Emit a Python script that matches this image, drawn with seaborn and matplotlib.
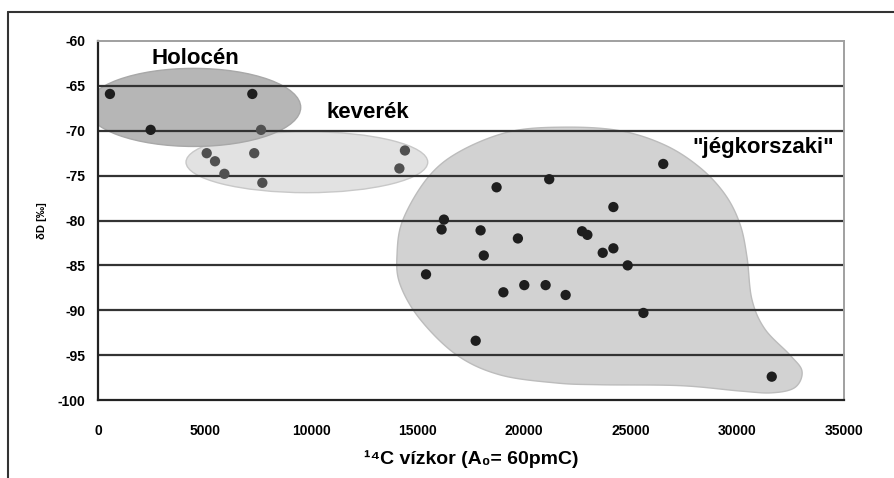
import numpy as np
import pandas as pd
import matplotlib
matplotlib.use("Agg")
import matplotlib.pyplot as plt
from matplotlib.patches import Ellipse, Polygon
from matplotlib.lines import Line2D
import seaborn as sns

# measured points: 14C water age (years) and dD (permil)
holocen_age = [560, 2470, 7240]
holocen_dd = [-65.9, -69.9, -65.9]

keverek_age = [7650, 5100, 5490, 5930, 7330, 7710, 14400, 14140]
keverek_dd = [-69.9, -72.5, -73.4, -74.8, -72.5, -75.8, -72.2, -74.2]

jeg_age = [26520, 21170, 18700, 24180, 16230, 16120, 17950, 19700, 22710, 22960,
           23680, 24180, 18100, 24850, 15390, 19020, 20000, 21000, 21940, 25590,
           17720, 31610]
jeg_dd = [-73.7, -75.4, -76.3, -78.5, -79.9, -81.0, -81.1, -82.0, -81.2, -81.6,
          -83.6, -83.1, -83.9, -85.0, -86.0, -88.0, -87.2, -87.2, -88.3, -90.3,
          -93.4, -97.4]

# group outlines (ellipse centre / size, blob outline)
holocen_ell = (4490, -67.4, 10040, 8.7)
keverek_ell = (9800, -73.5, 11340, 6.8)
blob_x = [21910, 24490, 26600, 28240, 29420, 30120, 30450, 30680, 31290, 32470,
          33030, 32700, 31620, 30120, 27310, 23550, 21490, 18860, 16840, 15110,
          14170, 14030, 14310, 15480, 16980, 19330]
blob_y = [-69.6, -70.0, -71.6, -74.1, -77.1, -80.4, -84.1, -88.8, -92.1, -95.0,
          -96.8, -98.6, -99.2, -99.0, -98.4, -98.3, -98.1, -97.2, -95.0, -91.0,
          -87.1, -83.8, -79.9, -75.2, -72.3, -70.1]

x_ticks = [0, 5000, 10000, 15000, 20000, 25000, 30000, 35000]
y_ticks = [-100, -95, -90, -85, -80, -75, -70, -65, -60]

sns.set_style("white")
plt.rcParams["font.family"] = ["Liberation Sans", "DejaVu Sans"]
plt.rcParams["text.color"] = "black"
plt.rcParams["axes.labelcolor"] = "black"
plt.rcParams["xtick.color"] = "black"
plt.rcParams["ytick.color"] = "black"

df = pd.concat([
    pd.DataFrame({"age": holocen_age, "dd": holocen_dd, "grp": "Holocén"}),
    pd.DataFrame({"age": keverek_age, "dd": keverek_dd, "grp": "keverék"}),
    pd.DataFrame({"age": jeg_age, "dd": jeg_dd, "grp": "jég"}),
])

fig = plt.figure(figsize=(8.95, 4.78), dpi=100)
ax = fig.add_axes([98 / 895, 78 / 478, 746 / 895, 359 / 478])


def smooth_closed(xs, ys, n=20):
    # closed Catmull-Rom curve through the outline points
    p = np.column_stack([xs, ys]).astype(float)
    sx, sy = 35000.0, 40.0
    p[:, 0] /= sx
    p[:, 1] /= sy
    out = []
    m = len(p)
    for i in range(m):
        p0, p1, p2, p3 = p[i - 1], p[i], p[(i + 1) % m], p[(i + 2) % m]
        for t in np.linspace(0, 1, n, endpoint=False):
            t2, t3 = t * t, t * t * t
            out.append(0.5 * ((2 * p1) + (-p0 + p2) * t + (2 * p0 - 5 * p1 + 4 * p2 - p3) * t2
                              + (-p0 + 3 * p1 - 3 * p2 + p3) * t3))
    out = np.array(out)
    out[:, 0] *= sx
    out[:, 1] *= sy
    return out


ax.add_patch(Polygon(smooth_closed(blob_x, blob_y), closed=True, fc="#d2d2d2",
                     ec="#bcbcbc", lw=1, zorder=1))
cx, cy, w, h = keverek_ell
ax.add_patch(Ellipse((cx, cy), w, h, fc="#e2e2e2", ec="#c8c8c8", lw=1, zorder=1))
cx, cy, w, h = holocen_ell
ax.add_patch(Ellipse((cx, cy), w, h, fc="#b6b6b6", ec="#a8a8a8", lw=1, zorder=1.1))

for y in y_ticks[1:-1]:
    ax.axhline(y, color="#333333", lw=1.6, zorder=2)

sns.scatterplot(data=df, x="age", y="dd", hue="grp",
                palette={"Holocén": "#1e1e1e", "keverék": "#505050", "jég": "#1e1e1e"},
                s=55, edgecolor="none", legend=False, ax=ax, zorder=3)

ax.set_xlim(0, 35000)
ax.set_ylim(-100, -60)
ax.set_xticks(x_ticks)
ax.set_yticks(y_ticks)
ax.set_xticklabels([str(v) for v in x_ticks], fontsize=10, fontweight="bold")
ax.set_yticklabels([str(v) for v in y_ticks], fontsize=10, fontweight="bold")
ax.tick_params(axis="both", direction="out", length=4, width=1.2, color="#222222",
               pad=5)
ax.tick_params(axis="x", pad=13)

for side in ["left", "bottom"]:
    ax.spines[side].set_color("#222222")
    ax.spines[side].set_linewidth(1.6)
for side in ["top", "right"]:
    ax.spines[side].set_color("#a0a0a0")
    ax.spines[side].set_linewidth(1.4)

ax.set_xlabel("¹⁴C vízkor (A₀= 60pmC)", fontsize=14, fontweight="bold", labelpad=9)
ax.set_ylabel("δD [‰]", fontsize=8, fontweight="bold", labelpad=8)

ax.text(4550, -61.9, "Holocén", fontsize=16, fontweight="bold", ha="center", va="center", zorder=4)
ax.text(12680, -68.0, "keverék", fontsize=16, fontweight="bold", ha="center", va="center", zorder=4)
ax.text(31210, -71.9, "\"jégkorszaki\"", fontsize=16, fontweight="bold", ha="center", va="center", zorder=4)

# outer frame of the original figure (top and left edges visible)
fig.add_artist(Line2D([8 / 895, 1], [1 - 12 / 478, 1 - 12 / 478], color="#333333", lw=1.5))
fig.add_artist(Line2D([8 / 895, 8 / 895], [0, 1 - 12 / 478], color="#333333", lw=1.5))

fig.savefig("out.png", dpi=100)
